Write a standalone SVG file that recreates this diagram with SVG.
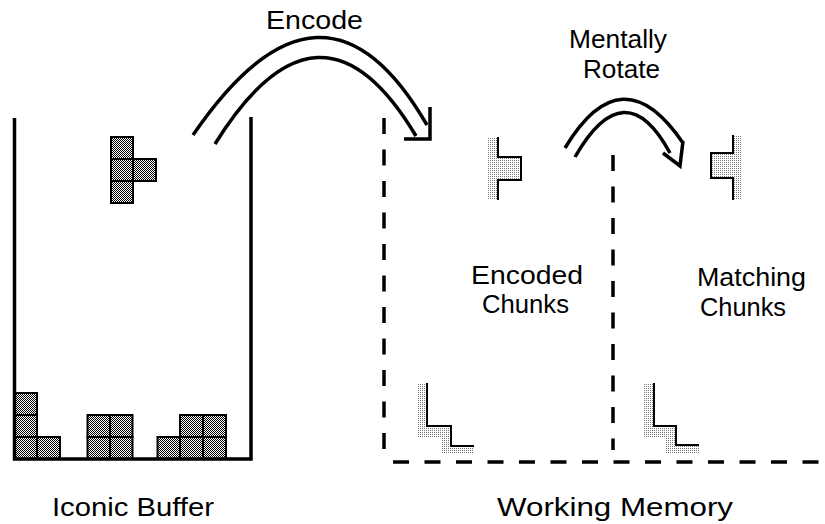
<svg xmlns="http://www.w3.org/2000/svg" width="825" height="524" viewBox="0 0 825 524">
<defs>
<pattern id="checker" width="2" height="2" patternUnits="userSpaceOnUse">
<rect width="2" height="2" fill="#fff"/>
<rect width="1" height="1" fill="#000"/>
<rect x="1" y="1" width="1" height="1" fill="#000"/>
</pattern>
<pattern id="stipple" width="2" height="2" patternUnits="userSpaceOnUse">
<rect width="2" height="2" fill="#fff"/>
<rect width="1" height="1" fill="#777"/>
</pattern>
</defs>
<style>
.blk{fill:url(#checker);stroke:#000;stroke-width:2}
.wall{fill:none;stroke:#000;stroke-width:3.5}
.dash{fill:none;stroke:#000;stroke-width:3.5;stroke-dasharray:16 15.5}
.st{fill:url(#stipple);stroke:none}
.edge{fill:none;stroke:#000;stroke-width:2}
.arc{fill:none;stroke:#000;stroke-width:3.5}
.lbl{font-family:"Liberation Sans",Arial,sans-serif;font-size:25px;fill:#000}
</style>
<rect width="825" height="524" fill="#fff"/>

<g id="iconic-buffer">
<g id="falling-piece">
<rect class="blk" x="111" y="137" width="22" height="22"/>
<rect class="blk" x="111" y="159" width="22" height="22"/>
<rect class="blk" x="111" y="181" width="22" height="22"/>
<rect class="blk" x="133" y="159" width="23" height="22"/>
</g>
<g id="stack">
<rect class="blk" x="15" y="393" width="22" height="22"/>
<rect class="blk" x="15" y="415" width="22" height="22"/>
<rect class="blk" x="15" y="437" width="22" height="22"/>
<rect class="blk" x="37" y="437" width="23" height="22"/>
<rect class="blk" x="87.5" y="415" width="22.5" height="22"/>
<rect class="blk" x="110" y="415" width="22.5" height="22"/>
<rect class="blk" x="87.5" y="437" width="22.5" height="22"/>
<rect class="blk" x="110" y="437" width="22.5" height="22"/>
<rect class="blk" x="157.5" y="437" width="22.5" height="22"/>
<rect class="blk" x="180" y="415" width="23" height="22"/>
<rect class="blk" x="203" y="415" width="23" height="22"/>
<rect class="blk" x="180" y="437" width="23" height="22"/>
<rect class="blk" x="203" y="437" width="23" height="22"/>
</g>
<path class="wall" d="M14.5,118 V459 H251 V117"/>
<text class="lbl" x="52" y="516" textLength="162" lengthAdjust="spacingAndGlyphs">Iconic Buffer</text>
</g>

<g id="working-memory">
<path class="dash" d="M384,118 V450"/>
<path class="dash" d="M613,155 V450"/>
<path class="dash" d="M393,462 H820"/>
<text class="lbl" x="497" y="516" textLength="236" lengthAdjust="spacingAndGlyphs">Working Memory</text>
</g>

<g id="encoded-chunks">
<path class="st" d="M488,137 H498 V157 H521 V180 H498 V200 H488 Z"/>
<path class="edge" d="M498,137 V157 H521 V180 H498 V200"/>
<path class="st" d="M417,383 H427 V426 H451 V446 H474 V454 H441 V437 H417 Z"/>
<path class="edge" d="M427,383 V426 H451 V446 H474"/>
<text class="lbl" x="471" y="284" textLength="112" lengthAdjust="spacingAndGlyphs">Encoded</text>
<text class="lbl" x="482" y="313" textLength="87" lengthAdjust="spacingAndGlyphs">Chunks</text>
</g>

<g id="matching-chunks">
<path class="st" d="M742,135 H733 V153 H711 V178 H733 V200 H742 Z"/>
<path class="edge" d="M733,135 V153 H711 V178 H733 V200"/>
<path class="st" d="M644,383 H654 V426 H676 V445 H699 V453 H666 V437 H644 Z"/>
<path class="edge" d="M654,383 V426 H676 V445 H699"/>
<text class="lbl" x="697" y="286" textLength="109" lengthAdjust="spacingAndGlyphs">Matching</text>
<text class="lbl" x="700" y="316" textLength="86" lengthAdjust="spacingAndGlyphs">Chunks</text>
</g>

<g id="connectors">
<g id="encode-arrow">
<path class="arc" d="M193,135 Q323,-55 427,125"/>
<path class="arc" d="M215,144 Q320,-25 416,136"/>
<path class="arc" d="M430,107 V139 H404"/>
<text class="lbl" x="266" y="29" textLength="97" lengthAdjust="spacingAndGlyphs">Encode</text>
</g>
<g id="rotate-arrow">
<path class="arc" d="M565,148 Q622,53 683,143"/>
<path class="arc" d="M575,157 Q625,70 670,153"/>
<path class="arc" d="M683,141 L680,166 L663,153"/>
<text class="lbl" x="569" y="48" textLength="98" lengthAdjust="spacingAndGlyphs">Mentally</text>
<text class="lbl" x="583" y="78" textLength="77" lengthAdjust="spacingAndGlyphs">Rotate</text>
</g>
</g>
</svg>
